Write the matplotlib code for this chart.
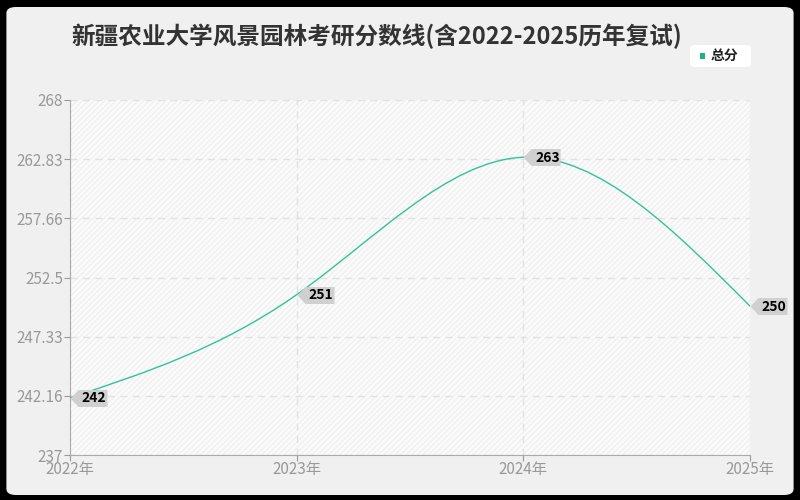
import matplotlib.pyplot as plt
from matplotlib.patches import FancyBboxPatch, PathPatch, Rectangle
from matplotlib.path import Path
import numpy as np

plt.rcParams['font.family'] = ['Noto Sans CJK SC', 'DejaVu Sans']

# data
years = [2022, 2023, 2024, 2025]
year_labels = ["2022年", "2023年", "2024年", "2025年"]
scores = [242, 251, 263, 250]
y_ticks = [237, 242.1667, 247.3333, 252.5, 257.6667, 262.8333, 268]
y_tick_labels = ["237", "242.16", "247.33", "252.5", "257.66", "262.83", "268"]

line_color = "#33c29a"

fig = plt.figure(figsize=(8, 5), dpi=100)
fig.patch.set_facecolor("black")
# rounded light panel inside black frame
panel = FancyBboxPatch((0.008, 0.01), 0.984, 0.976, boxstyle="round,pad=0,rounding_size=0.012",
                       transform=fig.transFigure, facecolor="#f0f0f0", edgecolor="none", zorder=-5)
fig.patches.append(panel)

ax = fig.add_axes([70 / 800, 45 / 500, 680 / 800, 355 / 500])
ax.set_zorder(2)
ax.set_facecolor("#fbfbfb")
ax.add_patch(Rectangle((0, 0), 1, 1, transform=ax.transAxes, facecolor="none",
                       edgecolor="#f0f0f0", hatch="//////", linewidth=0, zorder=0))
ax.set_xlim(2022, 2025)
ax.set_ylim(237, 268)

# smooth line: natural cubic spline drawn as bezier segments
x = np.array(years, dtype=float)
y = np.array(scores, dtype=float)
n = len(x)
h = np.diff(x)
A = np.zeros((n, n))
b = np.zeros(n)
A[0, 0] = A[-1, -1] = 1
for i in range(1, n - 1):
    A[i, i - 1] = h[i - 1]
    A[i, i] = 2 * (h[i - 1] + h[i])
    A[i, i + 1] = h[i]
    b[i] = 6 * ((y[i + 1] - y[i]) / h[i] - (y[i] - y[i - 1]) / h[i - 1])
M = np.linalg.solve(A, b)
d = np.zeros(n)
for i in range(n - 1):
    d[i] = (y[i + 1] - y[i]) / h[i] - h[i] * (2 * M[i] + M[i + 1]) / 6
d[-1] = (y[-1] - y[-2]) / h[-1] + h[-1] * (M[-2] + 2 * M[-1]) / 6
verts = [(x[0], y[0])]
codes = [Path.MOVETO]
for i in range(n - 1):
    verts += [(x[i] + h[i] / 3, y[i] + d[i] * h[i] / 3),
              (x[i + 1] - h[i] / 3, y[i + 1] - d[i + 1] * h[i] / 3),
              (x[i + 1], y[i + 1])]
    codes += [Path.CURVE4] * 3
ax.add_patch(PathPatch(Path(verts, codes), facecolor="none", edgecolor=line_color, linewidth=1, zorder=3))

# value labels: grey tag pointing left at each point
tag = Path([(0, 0), (8, 8.5), (37, 8.5), (37, -8.5), (8, -8.5), (0, 0)],
           [Path.MOVETO] + [Path.LINETO] * 4 + [Path.CLOSEPOLY])
tag_ms = 2 * 37 * 72 / 100
for xv, yv in zip(years, scores):
    ax.plot(xv, yv, marker=tag, markersize=tag_ms, color="#d0d0d0", markeredgewidth=0,
            zorder=4, clip_on=False)
    ax.annotate(str(yv), (xv, yv), xytext=(24 * 0.72, -0.5), textcoords="offset points", ha="center",
                va="center", fontsize=10, fontweight="bold", color="black", zorder=5,
                annotation_clip=False)

ax.set_xticks(years)
ax.set_xticklabels(year_labels)
ax.set_yticks(y_ticks)
ax.set_yticklabels(y_tick_labels)
ax.tick_params(colors="#999999", labelsize=11, length=4, pad=1)
ax.tick_params(axis="x", pad=0)
for lbl in ax.get_xticklabels() + ax.get_yticklabels():
    lbl.set_color("#999999")
ax.grid(True, linestyle=(0, (5, 4)), color="#e2e2e2", linewidth=1)
ax.set_axisbelow(True)
for s in ["top", "right"]:
    ax.spines[s].set_visible(False)
for s in ["left", "bottom"]:
    ax.spines[s].set_color("#aaaaaa")

fig.text(377 / 800, 1 - 36 / 500, "新疆农业大学风景园林考研分数线(含2022-2025历年复试)", ha="center", va="center",
         fontsize=17, fontweight="bold", color="#333333")

# legend box
leg_bg = FancyBboxPatch((690 / 800, 1 - 67 / 500), 61 / 800, 22 / 500, boxstyle="round,pad=0,rounding_size=0.006",
                        transform=fig.transFigure, facecolor="white", edgecolor="none", zorder=1)
fig.patches.append(leg_bg)
fig.patches.append(Rectangle((700 / 800, 1 - 59 / 500), 5 / 800, 6 / 500, transform=fig.transFigure,
                             facecolor="#1db386", edgecolor="none", zorder=2))
fig.text(711 / 800, 1 - 56 / 500, "总分", ha="left", va="center", fontsize=10, fontweight="bold", color="#222222")

fig.savefig("out.png", dpi=100, facecolor=fig.get_facecolor())
